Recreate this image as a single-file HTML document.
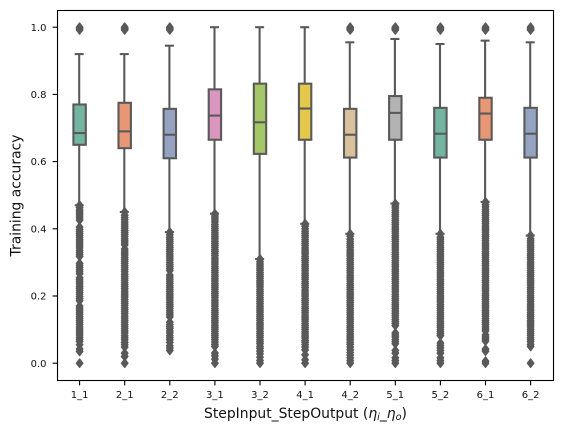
<!DOCTYPE html>
<html lang="en">
<head>
<meta charset="utf-8">
<title>Training accuracy box plot</title>
<style>
html,body{margin:0;padding:0;background:#fff;}
svg{display:block;font-family:"DejaVu Sans","Liberation Sans",sans-serif;}
</style>
</head>
<body>
<svg id="chart" width="562" height="433" viewBox="0 0 562 433" xmlns="http://www.w3.org/2000/svg">
  <rect x="57.5" y="10.5" width="496" height="370" fill="#fff"/>
  <g id="ticks"></g>
  <g id="boxes"></g>
  <rect x="57.5" y="10.5" width="496" height="370" fill="none" stroke="#000" stroke-width="1.1"/>
  <text transform="translate(20.5 195.5) rotate(-90)" text-anchor="middle" font-size="13.9" fill="#111">Training accuracy</text>
  <text x="305.5" y="418" text-anchor="middle" font-size="13.9" fill="#111">StepInput_StepOutput (<tspan font-style="italic">η</tspan><tspan font-style="italic" font-size="9.7" dy="2">i</tspan><tspan dy="-2">_</tspan><tspan font-style="italic">η</tspan><tspan font-style="italic" font-size="9.7" dy="2">o</tspan><tspan dy="-2">)</tspan></text>
</svg>
<script>
const categories = ['1_1','2_1','2_2','3_1','3_2','4_1','4_2','5_1','5_2','6_1','6_2'];
const q1Values = [0.65,0.64,0.61,0.665,0.623,0.665,0.612,0.665,0.612,0.665,0.612];
const medianValues = [0.685,0.69,0.68,0.737,0.717,0.758,0.68,0.745,0.683,0.743,0.683];
const q3Values = [0.77,0.775,0.757,0.815,0.832,0.832,0.757,0.795,0.76,0.79,0.76];
const whiskerLowValues = [0.47,0.45,0.39,0.445,0.31,0.415,0.385,0.475,0.385,0.48,0.38];
const whiskerHighValues = [0.92,0.92,0.945,1.0,1.0,1.0,0.955,0.965,0.95,0.96,0.955];
const fillColors = ['#72b6a1','#e99675','#95a3c3','#db96c0','#a4c964','#e3c84a','#d9c19b','#b3b3b3','#72b6a1','#e99675','#95a3c3'];
const yTickValues = [0,0.2,0.4,0.6,0.8,1.0];
const yTickLabels = ['0.0','0.2','0.4','0.6','0.8','1.0'];
const outliers11 = [0,0.035,0.042,0.055,0.065,0.071,0.077,0.084,0.09,0.096,0.102,0.108,0.115,0.121,0.127,0.133,0.139,0.146,0.152,0.158,0.164,0.17,0.186,0.192,0.198,0.205,0.211,0.217,0.223,0.229,0.236,0.242,0.248,0.254,0.266,0.272,0.278,0.285,0.291,0.297,0.318,0.324,0.33,0.336,0.343,0.349,0.355,0.361,0.367,0.374,0.38,0.386,0.392,0.398,0.405,0.426,0.432,0.438,0.444,0.45,0.456,0.463,0.47,0.992,0.996,1.0];
const outliers21 = [0,0.02,0.03,0.048,0.055,0.062,0.07,0.076,0.082,0.09,0.096,0.103,0.109,0.115,0.122,0.128,0.134,0.14,0.147,0.153,0.159,0.165,0.172,0.178,0.184,0.19,0.197,0.203,0.209,0.215,0.222,0.228,0.234,0.24,0.247,0.253,0.259,0.265,0.272,0.278,0.284,0.29,0.297,0.303,0.309,0.315,0.322,0.328,0.334,0.34,0.352,0.358,0.364,0.37,0.377,0.383,0.389,0.395,0.402,0.408,0.414,0.42,0.427,0.433,0.44,0.45,0.992,0.996,1.0];
const outliers22 = [0.038,0.045,0.052,0.062,0.07,0.076,0.082,0.09,0.096,0.103,0.109,0.115,0.122,0.138,0.144,0.15,0.156,0.163,0.169,0.175,0.181,0.188,0.194,0.2,0.206,0.213,0.219,0.225,0.231,0.238,0.244,0.25,0.256,0.262,0.276,0.282,0.288,0.294,0.3,0.307,0.313,0.319,0.325,0.332,0.338,0.344,0.35,0.357,0.363,0.369,0.375,0.382,0.39,0.992,0.996,1.0];
const outliers31 = [0,0.012,0.022,0.03,0.05,0.056,0.063,0.07,0.076,0.082,0.088,0.095,0.101,0.107,0.113,0.12,0.126,0.132,0.138,0.145,0.151,0.157,0.163,0.17,0.176,0.182,0.188,0.195,0.201,0.207,0.213,0.22,0.226,0.232,0.238,0.245,0.251,0.257,0.263,0.27,0.276,0.282,0.288,0.295,0.301,0.307,0.313,0.32,0.326,0.332,0.338,0.345,0.351,0.357,0.363,0.37,0.376,0.382,0.388,0.395,0.401,0.407,0.413,0.42,0.426,0.432,0.438,0.445];
const outliers32 = [0,0.008,0.018,0.028,0.036,0.044,0.05,0.058,0.064,0.07,0.077,0.083,0.089,0.095,0.102,0.108,0.114,0.12,0.127,0.133,0.139,0.145,0.152,0.158,0.164,0.17,0.177,0.183,0.189,0.195,0.202,0.208,0.214,0.22,0.227,0.233,0.239,0.245,0.252,0.258,0.264,0.27,0.277,0.283,0.289,0.295,0.302,0.31];
const outliers41 = [0,0.01,0.025,0.04,0.048,0.055,0.062,0.068,0.075,0.081,0.087,0.093,0.1,0.106,0.112,0.118,0.125,0.131,0.137,0.143,0.15,0.156,0.162,0.168,0.175,0.181,0.187,0.193,0.2,0.206,0.212,0.218,0.225,0.231,0.237,0.243,0.25,0.256,0.262,0.268,0.275,0.281,0.287,0.293,0.3,0.306,0.312,0.318,0.325,0.331,0.337,0.343,0.35,0.356,0.362,0.368,0.375,0.381,0.387,0.393,0.4,0.408,0.415];
const outliers42 = [0,0.008,0.016,0.024,0.032,0.04,0.048,0.056,0.062,0.069,0.075,0.081,0.087,0.094,0.1,0.106,0.112,0.119,0.125,0.131,0.137,0.144,0.15,0.156,0.162,0.169,0.175,0.181,0.187,0.194,0.2,0.206,0.212,0.219,0.225,0.231,0.237,0.244,0.25,0.256,0.262,0.269,0.275,0.281,0.287,0.294,0.3,0.306,0.312,0.319,0.325,0.331,0.337,0.344,0.35,0.356,0.362,0.369,0.378,0.385,0.992,0.996,1.0];
const outliers51 = [0,0.008,0.016,0.03,0.038,0.058,0.064,0.07,0.078,0.084,0.09,0.112,0.118,0.124,0.13,0.137,0.143,0.149,0.155,0.162,0.168,0.174,0.18,0.187,0.193,0.199,0.205,0.212,0.218,0.224,0.23,0.237,0.243,0.249,0.255,0.262,0.268,0.274,0.28,0.287,0.293,0.299,0.305,0.312,0.318,0.324,0.33,0.337,0.343,0.349,0.355,0.362,0.368,0.374,0.38,0.387,0.393,0.399,0.405,0.412,0.418,0.424,0.43,0.437,0.443,0.449,0.455,0.462,0.468,0.475,0.992,0.996,1.0];
const outliers52 = [0,0.008,0.016,0.03,0.038,0.046,0.053,0.06,0.082,0.088,0.094,0.1,0.107,0.113,0.119,0.125,0.132,0.138,0.144,0.15,0.157,0.163,0.169,0.175,0.182,0.188,0.194,0.2,0.207,0.213,0.219,0.225,0.232,0.238,0.244,0.25,0.257,0.263,0.269,0.275,0.282,0.288,0.294,0.3,0.307,0.313,0.319,0.325,0.332,0.338,0.344,0.35,0.357,0.363,0.369,0.375,0.385,0.992,0.996,1.0];
const outliers61 = [0,0.006,0.036,0.042,0.066,0.072,0.078,0.084,0.096,0.102,0.108,0.115,0.121,0.127,0.133,0.14,0.146,0.152,0.158,0.165,0.171,0.177,0.183,0.19,0.196,0.202,0.208,0.215,0.221,0.227,0.233,0.24,0.246,0.252,0.258,0.265,0.271,0.277,0.283,0.29,0.296,0.302,0.308,0.315,0.321,0.327,0.333,0.34,0.346,0.352,0.358,0.365,0.371,0.377,0.383,0.39,0.396,0.402,0.408,0.415,0.421,0.427,0.433,0.44,0.446,0.452,0.458,0.465,0.472,0.48,0.992,0.996,1.0];
const outliers62 = [0,0.05,0.056,0.064,0.07,0.076,0.083,0.089,0.095,0.101,0.108,0.114,0.12,0.126,0.133,0.139,0.145,0.151,0.158,0.164,0.17,0.176,0.183,0.189,0.195,0.201,0.208,0.214,0.22,0.226,0.233,0.239,0.245,0.251,0.258,0.264,0.27,0.276,0.283,0.289,0.295,0.301,0.308,0.314,0.32,0.326,0.333,0.339,0.345,0.351,0.358,0.364,0.37,0.38,0.992,0.996,1.0];
const outlierSeries = [outliers11,outliers21,outliers22,outliers31,outliers32,outliers41,outliers42,outliers51,outliers52,outliers61,outliers62];

const NS = 'http://www.w3.org/2000/svg';
const LINE = '#595959';
function xScale(i){ return 79.6 + 45.1 * i; }
function yScale(v){ return 363.2 - 336 * v; }
function make(parent, tag, attrs){
  const el = document.createElementNS(NS, tag);
  for (const k in attrs) el.setAttribute(k, attrs[k]);
  parent.appendChild(el);
  return el;
}
const ticksG = document.getElementById('ticks');
const boxesG = document.getElementById('boxes');

yTickValues.forEach(function(v, i){
  const y = yScale(v);
  const t = make(ticksG, 'line', {x1:52.6, x2:57.5, y1:y, y2:y, stroke:'#000', 'stroke-width':1.1});
  
  
  const l = make(ticksG, 'text', {x:46.5, y:y + 3.6, 'text-anchor':'end', 'font-size':10, fill:'#111'});
  
  
  l.textContent = yTickLabels[i];
});

categories.forEach(function(c, i){
  const x = xScale(i);
  const t = make(ticksG, 'line', {x1:x, x2:x, y1:380.5, y2:385.4, stroke:'#000', 'stroke-width':1.1});
  
  
  const l = make(ticksG, 'text', {x:x, y:398, 'text-anchor':'middle', 'font-size':10, fill:'#111'});
  
  
  l.textContent = c;

  const g = make(boxesG, 'g', {});
  
  

  const wx = x - 0.4;
  const low = make(g, 'line', {x1:wx, x2:wx, y1:yScale(q1Values[i]), y2:yScale(whiskerLowValues[i]), stroke:LINE, 'stroke-width':2.08});
  
  
  const high = make(g, 'line', {x1:wx, x2:wx, y1:yScale(q3Values[i]), y2:yScale(whiskerHighValues[i]), stroke:LINE, 'stroke-width':2.08});
  
  
  const capLow = make(g, 'line', {x1:wx - 4.5, x2:wx + 4.5, y1:yScale(whiskerLowValues[i]), y2:yScale(whiskerLowValues[i]), stroke:LINE, 'stroke-width':2.08});
  
  
  const capHigh = make(g, 'line', {x1:wx - 4.5, x2:wx + 4.5, y1:yScale(whiskerHighValues[i]), y2:yScale(whiskerHighValues[i]), stroke:LINE, 'stroke-width':2.08});
  
  

  const box = make(g, 'rect', {x:x - 6.2, y:yScale(q3Values[i]), width:12.4, height:yScale(q1Values[i]) - yScale(q3Values[i]), fill:fillColors[i], stroke:LINE, 'stroke-width':2.08});
  
  
  const med = make(g, 'line', {x1:x - 6.2, x2:x + 6.2, y1:yScale(medianValues[i]), y2:yScale(medianValues[i]), stroke:LINE, 'stroke-width':2.08});
  
  

  outlierSeries[i].forEach(function(v){
    const y = yScale(v);
    const d = make(g, 'path', {d:'M' + x + ' ' + (y - 4.4) + 'L' + (x + 3.4) + ' ' + y + 'L' + x + ' ' + (y + 4.4) + 'L' + (x - 3.4) + ' ' + y + 'Z', fill:LINE, stroke:LINE, 'stroke-width':1.1, 'stroke-linejoin':'round'});
    
    
  });
});
</script>
</body>
</html>
